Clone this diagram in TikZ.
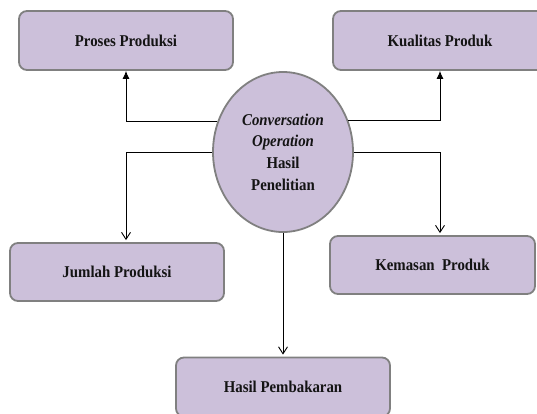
\documentclass[tikz,border=0pt]{standalone}
\usepackage{fontspec}
\setmainfont[FakeStretch=0.9]{Liberation Serif}
\usepackage{tikz}
\usetikzlibrary{shapes.geometric, arrows.meta, positioning}
\usepackage{xcolor}
\definecolor{boxlavender}{RGB}{204, 192, 218}
\definecolor{bordergray}{RGB}{128, 128, 128}
\definecolor{textdark}{RGB}{20, 20, 20}

\begin{document}
\begin{tikzpicture}[
    x=1pt, y=-1pt,
    factor/.style={rectangle, draw=bordergray, fill=boxlavender, rounded corners=8pt, minimum width=214pt, minimum height=59pt, align=center, font=\fontsize{16.5}{21.7}\selectfont\bfseries, text=textdark, line width=1.8pt},
    centre/.style={ellipse, draw=bordergray, fill=boxlavender, minimum width=140pt, minimum height=160pt, inner sep=0pt, align=center, font=\fontsize{16.5}{21.7}\selectfont\bfseries, text=textdark, line width=1.8pt},
    uparrow/.style={-{Latex[length=8pt, width=7pt]}, line width=0.9pt, color=black},
    downarrow/.style={-{Straight Barb[length=7pt, width=9pt]}, line width=0.9pt, color=black, shorten >=2pt},
]
\useasboundingbox (0, 0) rectangle (537, 413);
\clip (0, 0) rectangle (537, 413);

% Central ellipse
\node[centre] (ell) at (283, 152) {\textit{Conversation}\\\textit{Operation}\\Hasil\\Penelitian};

% Boxes
\node[factor] (proses) at (126, 40.5) {Proses Produksi};
\node[factor] (kualitas) at (440, 40.5) {Kualitas Produk};
\node[factor, minimum height=58pt] (jumlah) at (117, 272) {Jumlah Produksi};
\node[factor, minimum width=205pt, minimum height=58pt] (kemasan) at (432.5, 265) {Kemasan~~Produk};
\node[factor] (hasil) at (283, 387) {Hasil Pembakaran};

% Arrows
\draw[uparrow] (ell.155) -| (proses.south);
\draw[downarrow] (ell.west) -| (proses.south |- jumlah.north);
\draw[uparrow] (ell.26) -| (kualitas.south);
\draw[downarrow] (ell.east) -| (kualitas.south |- kemasan.north);
\draw[downarrow] (ell.south) -- (hasil.north);

\end{tikzpicture}
\end{document}
